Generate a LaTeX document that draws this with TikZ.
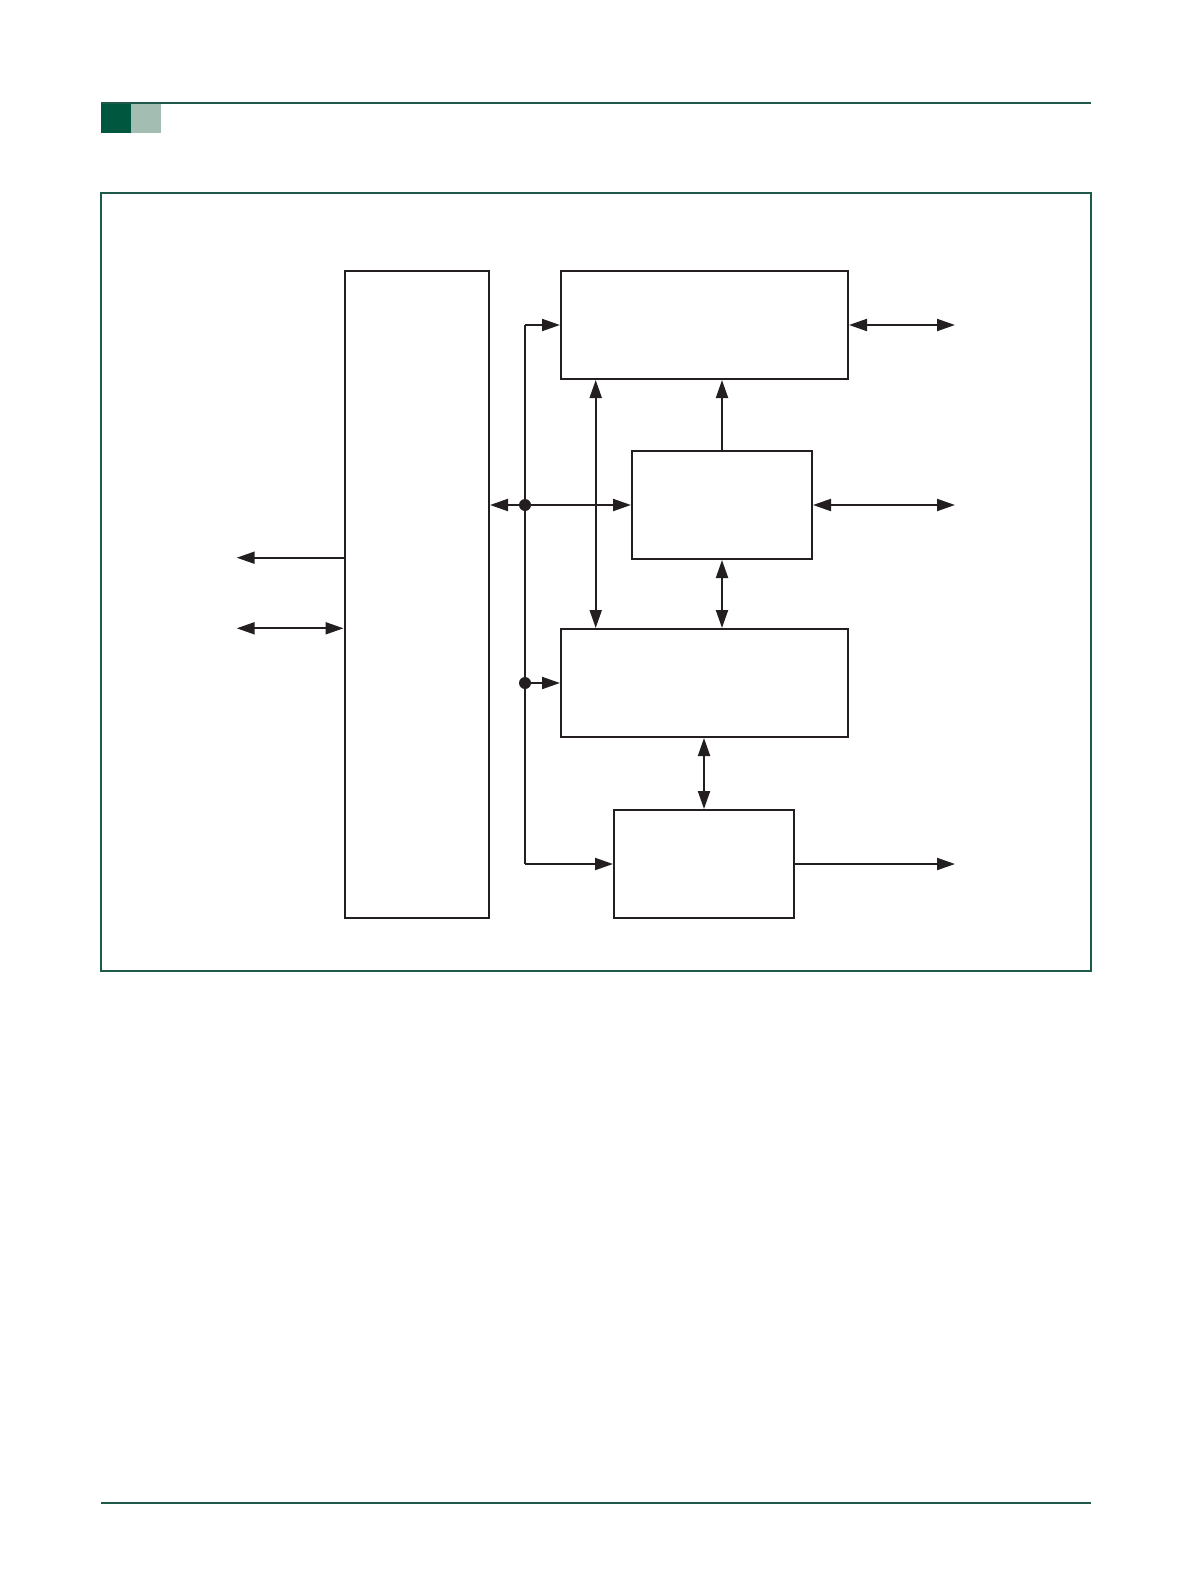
\documentclass[tikz,border=0pt]{standalone}
\usetikzlibrary{arrows.meta,calc}
\definecolor{hdrdark}{HTML}{00573F}
\definecolor{hdrlight}{HTML}{A3BDB2}
\definecolor{frameclr}{HTML}{1E5A4A}
\definecolor{ink}{HTML}{231F20}
\begin{document}
\begin{tikzpicture}[x=1pt,y=-1pt,
  blockbox/.style={draw=ink,line width=2pt,inner sep=0pt,anchor=north west},
  conn/.style={draw=ink,line width=2pt},
  arr/.style={conn,-{Triangle[length=18pt,width=12pt]}},
  darr/.style={conn,{Triangle[length=18pt,width=12pt]}-{Triangle[length=18pt,width=12pt]}},
  jdot/.style={circle,fill=ink,inner sep=0pt,minimum size=12pt}]
\useasboundingbox (0,0) rectangle (1192,1584);
% header
\fill[hdrdark] (101,103) rectangle (131,133);
\fill[hdrlight] (131,103) rectangle (161,133);
\draw[frameclr,line width=1.2pt] (101,103) -- (1091,103);
\draw[frameclr,line width=1.2pt] (101,193) rectangle (1091,971);
\draw[frameclr,line width=1.2pt] (101,1503) -- (1091,1503);
% blocks
\node[blockbox,minimum width=144.5pt,minimum height=646.5pt] (big) at (343.5,270) {};
\node[blockbox,minimum width=287pt,minimum height=108pt] (top) at (560,270) {};
\node[blockbox,minimum width=180pt,minimum height=108pt] (mid) at (631,450) {};
\node[blockbox,minimum width=287pt,minimum height=108pt] (third) at (560,628) {};
\node[blockbox,minimum width=180pt,minimum height=108pt] (bot) at (613,809) {};
% helper coordinates
\coordinate (busx) at (525,0);
\coordinate (vx) at (595.7,0);
\coordinate (ox) at (955,0);
\coordinate (lx) at (236.7,0);
\coordinate (ly1) at (0,557.7);
\coordinate (ly2) at (0,628.3);
\coordinate (btop) at (top.west -| busx);
\coordinate (bbot) at (bot.west -| busx);
\node[jdot] (j1) at (mid.west -| busx) {};
\node[jdot] (j2) at (third.west -| busx) {};
\coordinate (o1) at (top.east -| ox);
\coordinate (o2) at (mid.east -| ox);
\coordinate (o3) at (bot.east -| ox);
\coordinate (l1) at (ly1 -| lx);
\coordinate (l2) at (ly2 -| lx);
% bus
\draw[conn] (btop) -- (bbot);
\draw[arr] (btop) -- (top.west);
\draw[arr] (bbot) -- (bot.west);
\draw[arr] (j1.center) -- (big.east |- j1);
\draw[arr] (j1.center) -- (mid.west);
\draw[arr] (j2.center) -- (third.west);
% verticals
\draw[darr] (top.south -| vx) -- (third.north -| vx);
\draw[arr] (mid.north) -- (top.south -| mid.north);
\draw[darr] (mid.south) -- (third.north -| mid.south);
\draw[darr] (third.south -| bot.north) -- (bot.north);
% right outputs
\draw[darr] (top.east) -- (o1);
\draw[darr] (mid.east) -- (o2);
\draw[arr] (bot.east) -- (o3);
% left outputs
\draw[arr] (big.west |- l1) -- (l1);
\draw[darr] (big.west |- l2) -- (l2);
\end{tikzpicture}
\end{document}
